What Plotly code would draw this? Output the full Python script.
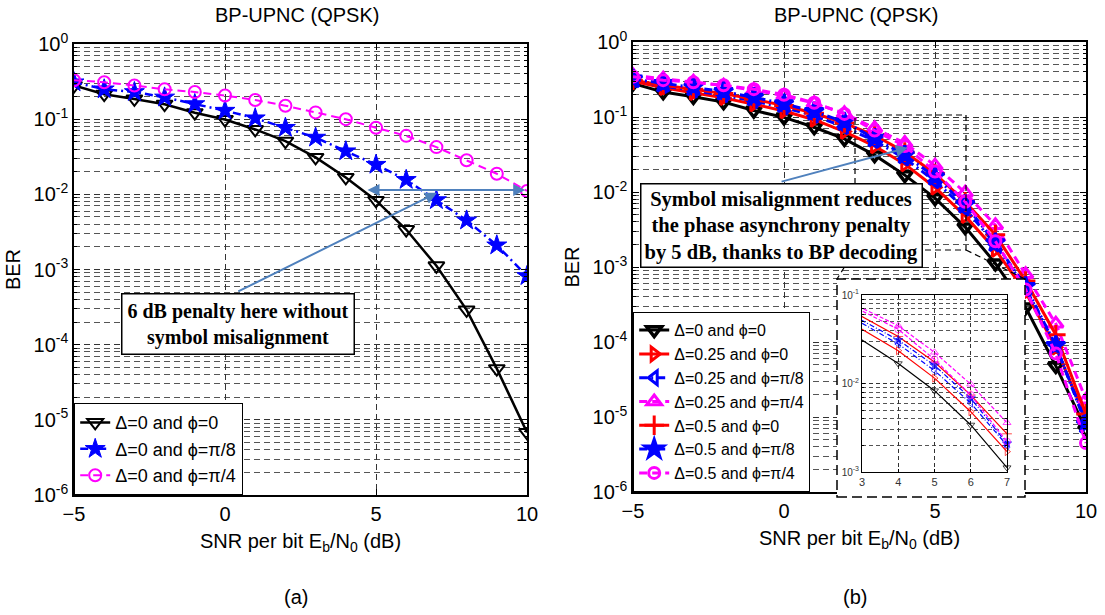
import math
import plotly.graph_objects as go

# ---------------- data ----------------
snr = [-5, -4, -3, -2, -1, 0, 1, 2, 3, 4, 5, 6, 7, 8, 9, 10]

# (a) Delta = 0
ber_d0_p0 = [0.28, 0.215, 0.186, 0.158, 0.122, 0.099, 0.073, 0.051, 0.031, 0.0168, 0.0083, 0.0034, 0.00112, 2.9e-4, 4.8e-5, 6.8e-6]
ber_d0_p8 = [0.31, 0.25, 0.23, 0.195, 0.159, 0.13, 0.103, 0.077, 0.057, 0.0375, 0.0248, 0.0156, 0.0084, 0.0045, 0.0021, 8.2e-4]
ber_d0_p4 = [0.33, 0.31, 0.28, 0.25, 0.23, 0.206, 0.18, 0.151, 0.123, 0.1, 0.077, 0.06, 0.0425, 0.0284, 0.0188, 0.0111]

# (b) symbol misalignment
ber_d25_p0 = [0.30, 0.245, 0.21, 0.18, 0.148, 0.12, 0.092, 0.064, 0.041, 0.0235, 0.0115, 0.0048, 0.0017, 4.6e-4, 8.5e-5, 9.5e-6]
ber_d25_p8 = [0.31, 0.26, 0.225, 0.195, 0.163, 0.134, 0.104, 0.074, 0.048, 0.028, 0.014, 0.006, 0.002, 5.2e-4, 9.0e-5, 8.5e-6]
ber_d25_p4 = [0.36, 0.325, 0.295, 0.262, 0.228, 0.192, 0.153, 0.112, 0.071, 0.045, 0.0225, 0.0098, 0.0036, 8.0e-4, 1.75e-4, 1.7e-5]
ber_d5_p0 = [0.31, 0.265, 0.235, 0.205, 0.172, 0.142, 0.112, 0.083, 0.057, 0.034, 0.0175, 0.0074, 0.0027, 6.5e-4, 1.25e-4, 1.1e-5]
ber_d5_p8 = [0.32, 0.28, 0.25, 0.218, 0.183, 0.15, 0.118, 0.086, 0.052, 0.031, 0.016, 0.0068, 0.0021, 5.5e-4, 9.0e-5, 8.0e-6]
ber_d5_p4 = [0.345, 0.31, 0.29, 0.265, 0.235, 0.198, 0.155, 0.11, 0.066, 0.041, 0.0187, 0.0074, 0.0022, 5.0e-4, 7.0e-5, 4.5e-6]

names_a = ["Δ=0 and ϕ=0", "Δ=0 and ϕ=π/8", "Δ=0 and ϕ=π/4"]
names_b = ["Δ=0 and ϕ=0", "Δ=0.25 and ϕ=0", "Δ=0.25 and ϕ=π/8", "Δ=0.25 and ϕ=π/4",
           "Δ=0.5 and ϕ=0", "Δ=0.5 and ϕ=π/8", "Δ=0.5 and ϕ=π/4"]

y_tickvals = [1e-6, 1e-5, 1e-4, 1e-3, 1e-2, 1e-1, 1]
y_ticktext = ["10<sup>-6</sup>", "10<sup>-5</sup>", "10<sup>-4</sup>", "10<sup>-3</sup>",
              "10<sup>-2</sup>", "10<sup>-1</sup>", "10<sup>0</sup>"]
x_tickvals = [-5, 0, 5, 10]
inset_xticks = [3, 4, 5, 6, 7]
inset_ytickvals = [1e-3, 1e-2, 1e-1]
inset_yticktext = ["10<sup>-3</sup>", "10<sup>-2</sup>", "10<sup>-1</sup>"]

# ---------------- layout geometry (pixels) ----------------
W, H = 1105, 615
def px(x): return x / W
def py(y): return 1 - y / H

A = dict(x0=74, x1=527, y0=44, y1=495)
B = dict(x0=633, x1=1086, y0=42, y1=492)
INS = dict(x0=862, x1=1007, y0=295, y1=472)
FRM = dict(x0=837, x1=1025, y0=279, y1=497)

FONT = "Liberation Sans, Arial"
SERIF = "Liberation Serif, Times New Roman"
TICK_FS = 20
LAB_FS = 20

minor_vals = [m * 10.0 ** e for e in range(-6, 0) for m in range(2, 10)]
inset_minor = [m * 10.0 ** e for e in range(-3, -1) for m in range(2, 10)]

fig = go.Figure()

# ---------------- (a) ----------------
fig.add_trace(go.Scatter(x=snr, y=ber_d0_p0, name=names_a[0], mode="lines+markers",
                         line=dict(color="black", width=2.5),
                         marker=dict(symbol="triangle-down-open", size=14, color="black", line=dict(width=2)),
                         xaxis="x", yaxis="y", legend="legend"))
fig.add_trace(go.Scatter(x=snr, y=ber_d0_p8, name=names_a[1], mode="lines+markers",
                         line=dict(color="#0000FF", width=2.5, dash="8px,4px,2px,4px"),
                         marker=dict(symbol="star", size=15, color="#0000FF", line=dict(width=1, color="#0000FF")),
                         xaxis="x", yaxis="y", legend="legend"))
fig.add_trace(go.Scatter(x=snr, y=ber_d0_p4, name=names_a[2], mode="lines+markers",
                         line=dict(color="#FF00FF", width=2, dash="8px,5px"),
                         marker=dict(symbol="circle-open", size=12, color="#FF00FF", line=dict(width=2)),
                         xaxis="x", yaxis="y", legend="legend"))

# ---------------- (b) ----------------
b_series = [ber_d0_p0, ber_d25_p0, ber_d25_p8, ber_d25_p4, ber_d5_p0, ber_d5_p8, ber_d5_p4]
b_colors = ["black", "#FF0000", "#0000FF", "#FF00FF", "#FF0000", "#0000FF", "#FF00FF"]
b_dash = ["solid", "solid", "8px,4px,2px,4px", "8px,5px", "solid", "8px,4px,2px,4px", "8px,5px"]
b_dash_small = ["solid", "solid", "5px,2px,1px,2px", "4px,2px", "solid", "5px,2px,1px,2px", "4px,2px"]
b_sym = ["triangle-down-open", "triangle-right-open", "triangle-left-open", "triangle-up-open",
         "cross-thin-open", "star", "circle-open"]
b_size = [13, 12, 12, 13, 14, 14, 11]

for i, ys in enumerate(b_series):
    fig.add_trace(go.Scatter(x=snr, y=ys, name=names_b[i], mode="lines+markers",
                             line=dict(color=b_colors[i], width=3, dash=b_dash[i]),
                             marker=dict(symbol=b_sym[i], size=b_size[i], color=b_colors[i],
                                         line=dict(width=3.5 if i == 0 else 3, color=b_colors[i])),
                             xaxis="x2", yaxis="y2", legend="legend2"))

# frame subplot (opaque white panel behind the inset)
fig.add_trace(go.Scatter(x=[], y=[], xaxis="x3", yaxis="y3", showlegend=False, hoverinfo="skip"))

# ---------------- inset ----------------
ins_idx = [i for i, s in enumerate(snr) if 2 <= s <= 7]
ins_x = [snr[i] for i in ins_idx]
for i, ys in enumerate(b_series):
    sizes = [0 if snr[j] <= 3 else 7 for j in ins_idx]
    fig.add_trace(go.Scatter(x=ins_x, y=[ys[j] for j in ins_idx], mode="lines+markers", showlegend=False,
                             line=dict(color=b_colors[i], width=1.2, dash=b_dash_small[i]),
                             marker=dict(symbol=b_sym[i], size=sizes, color=b_colors[i],
                                         line=dict(width=1, color=b_colors[i])),
                             cliponaxis=False, xaxis="x4", yaxis="y4"))

grid_dash = "6px,4px"
def main_y(domain, anchor):
    return dict(type="log", range=[-6, 0], domain=domain, anchor=anchor, automargin=False,
                tickvals=y_tickvals, ticktext=y_ticktext, ticks="inside", ticklen=6, tickcolor="black",
                showline=True, linecolor="black", linewidth=1.5, mirror="ticks",
                showgrid=True, gridcolor="#333", griddash=grid_dash, gridwidth=1,
                minor=dict(tickvals=minor_vals, showgrid=True, gridcolor="#555", griddash=grid_dash,
                           gridwidth=1, ticks="inside", ticklen=3, tickcolor="black"),
                tickfont=dict(family=FONT, size=TICK_FS, color="black"),
                title=dict(text="BER", font=dict(family=FONT, size=LAB_FS, color="black"), standoff=8),
                zeroline=False)

def main_x(domain, anchor):
    return dict(range=[-5, 10], domain=domain, anchor=anchor, tickvals=x_tickvals, automargin=False,
                ticks="inside", ticklen=6, tickcolor="black", showline=True, linecolor="black", linewidth=1.5,
                mirror="ticks", showgrid=True, gridcolor="#333", griddash=grid_dash, gridwidth=1,
                tickfont=dict(family=FONT, size=TICK_FS, color="black"),
                title=dict(text="SNR per bit E<sub>b</sub>/N<sub>0</sub> (dB)",
                           font=dict(family=FONT, size=LAB_FS, color="black"), standoff=10),
                zeroline=False)

fig.update_layout(
    template="none",
    width=W, height=H, margin=dict(l=0, r=0, t=0, b=0, autoexpand=False),
    paper_bgcolor="white", plot_bgcolor="white",
    font=dict(family=FONT, color="black"),
    xaxis=main_x([px(A["x0"]), px(A["x1"])], "y"),
    yaxis=main_y([py(A["y1"]), py(A["y0"])], "x"),
    xaxis2=main_x([px(B["x0"]), px(B["x1"])], "y2"),
    yaxis2=main_y([py(B["y1"]), py(B["y0"])], "x2"),
    xaxis3=dict(domain=[px(FRM["x0"]), px(FRM["x1"])], anchor="y3", visible=False, range=[0, 1]),
    yaxis3=dict(domain=[py(FRM["y1"]), py(FRM["y0"])], anchor="x3", visible=False, range=[0, 1]),
    xaxis4=dict(range=[3, 7], domain=[px(INS["x0"]), px(INS["x1"])], anchor="y4", tickvals=inset_xticks,
                automargin=False, ticks="inside", ticklen=3, tickcolor="black", showline=True, linecolor="black",
                linewidth=1, mirror="ticks", showgrid=True, gridcolor="#333", griddash="4px,3px",
                tickfont=dict(family=FONT, size=11, color="#333"), zeroline=False),
    yaxis4=dict(type="log", range=[-3, -1], domain=[py(INS["y1"]), py(INS["y0"])], anchor="x4",
                automargin=False, tickvals=inset_ytickvals, ticktext=inset_yticktext, ticks="inside", ticklen=3,
                tickcolor="black", showline=True, linecolor="black", linewidth=1, mirror="ticks",
                showgrid=True, gridcolor="#333", griddash="4px,3px",
                minor=dict(tickvals=inset_minor, showgrid=True, gridcolor="#555", griddash="4px,3px",
                           ticks="inside", ticklen=2, tickcolor="black"),
                tickfont=dict(family=FONT, size=10, color="#333"), zeroline=False),
    legend=dict(x=px(A["x0"]), y=py(A["y1"]), xanchor="left", yanchor="bottom",
                bgcolor="white", bordercolor="black", borderwidth=1.2,
                font=dict(family=FONT, size=18, color="black"), itemwidth=30, tracegroupgap=0),
    legend2=dict(x=px(B["x0"]), y=py(B["y1"]), xanchor="left", yanchor="bottom",
                 bgcolor="white", bordercolor="black", borderwidth=1.2,
                 font=dict(family=FONT, size=16, color="black"), itemwidth=30, tracegroupgap=0),
    showlegend=True,
)

ann = []
for cx in [(A["x0"] + A["x1"]) / 2 - 4, (B["x0"] + B["x1"]) / 2 - 4]:
    ann.append(dict(text="BP-UPNC (QPSK)", x=px(cx), y=py(15), xref="paper", yref="paper",
                    showarrow=False, font=dict(family=FONT, size=20, color="black"),
                    xanchor="center", yanchor="middle"))
ann.append(dict(text="(a)", x=px(296), y=py(597), xref="paper", yref="paper", showarrow=False,
                xanchor="center", yanchor="middle", font=dict(family=FONT, size=20, color="black")))
ann.append(dict(text="(b)", x=px(855), y=py(597), xref="paper", yref="paper", showarrow=False,
                xanchor="center", yanchor="middle", font=dict(family=FONT, size=20, color="black")))

arrow_c = "#4F81BD"
# (a) double arrow
ya = math.log10(0.0114)
ann.append(dict(text="", x=9.94, y=ya, ax=4.67, ay=ya, xref="x", yref="y", axref="x", ayref="y",
                showarrow=True, arrowhead=2, startarrowhead=2, arrowside="end+start", arrowsize=1.2,
                startarrowsize=1.2, arrowwidth=2, arrowcolor=arrow_c, standoff=0, startstandoff=0))
ann.append(dict(text="", x=7.02, y=-1.98, ax=0.39, ay=-3.30, xref="x", yref="y", axref="x", ayref="y",
                showarrow=True, arrowhead=2, arrowsize=1.2, arrowwidth=2, arrowcolor=arrow_c, standoff=0))
ann.append(dict(text="<b>6 dB penalty here without<br>symbol misalignment</b>", x=px(238), y=py(324),
                xref="paper", yref="paper", xanchor="center", yanchor="middle", showarrow=False,
                bgcolor="white", bordercolor="black", borderwidth=1.5, borderpad=5,
                font=dict(family=SERIF, size=20, color="black"), align="center"))
# (b)
ann.append(dict(text="", x=4.1, y=-1.41, ax=-0.13, ay=-1.867, xref="x2", yref="y2", axref="x2", ayref="y2",
                showarrow=True, arrowhead=2, arrowsize=1.2, arrowwidth=2, arrowcolor=arrow_c, standoff=0))
ann.append(dict(text="<b>Symbol misalignment reduces<br>the phase asynchrony penalty<br>by 5 dB, thanks to BP decoding</b>",
                x=px(781), y=py(225), xref="paper", yref="paper", xanchor="center", yanchor="middle",
                showarrow=False, bgcolor="white", bordercolor="black", borderwidth=1.5, borderpad=3,
                font=dict(family=SERIF, size=20.5, color="black"), align="center"))
fig.update_layout(annotations=ann)

shapes = []
dash_s = dict(color="black", width=1.2, dash="6px,4px")
# zoom rectangle in main (b)
shapes.append(dict(type="rect", xref="paper", yref="paper", x0=px(855), x1=px(966), y0=py(250), y1=py(115),
                   line=dash_s, layer="above"))
shapes.append(dict(type="line", xref="paper", yref="paper", x0=px(855), y0=py(250), x1=px(FRM["x0"]), y1=py(FRM["y0"]),
                   line=dash_s, layer="above"))
shapes.append(dict(type="line", xref="paper", yref="paper", x0=px(966), y0=py(250), x1=px(FRM["x1"]), y1=py(FRM["y0"]),
                   line=dash_s, layer="above"))
# inset frame border
shapes.append(dict(type="rect", xref="paper", yref="paper", x0=px(FRM["x0"]), x1=px(FRM["x1"]),
                   y0=py(FRM["y1"]), y1=py(FRM["y0"]),
                   line=dict(color="black", width=1.5, dash="10px,5px"), layer="above"))
fig.update_layout(shapes=shapes)

fig.write_html("out.html", config={"displayModeBar": False},
               post_script="document.body.style.margin='0px';document.body.style.overflow='hidden';")
